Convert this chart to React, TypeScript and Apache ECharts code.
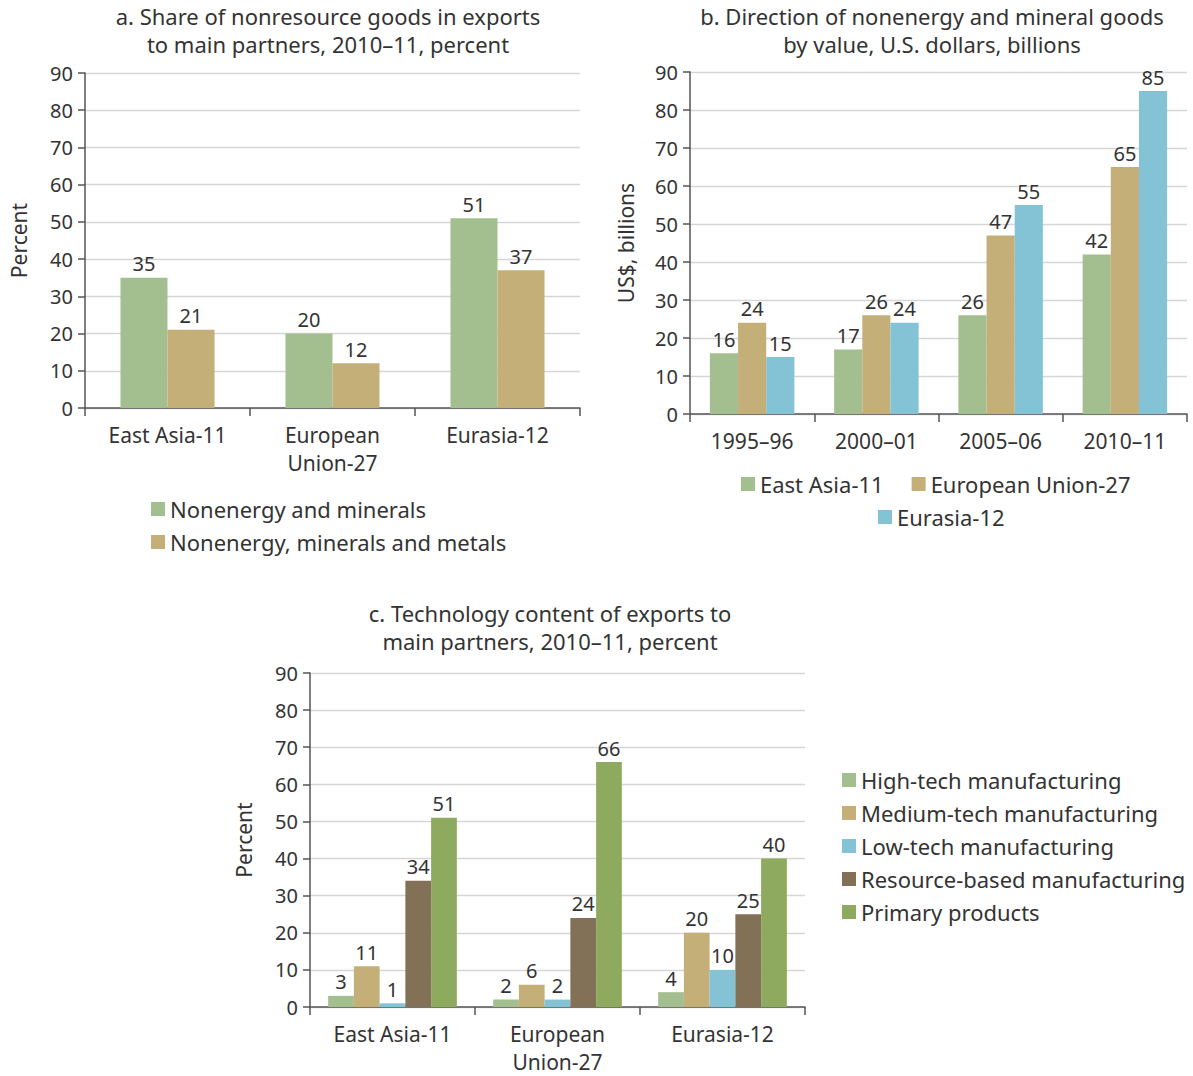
import React, { useEffect, useRef } from "react";
import * as echarts from "echarts";

const catsA = ["East Asia-11", "European\nUnion-27", "Eurasia-12"];
const seriesA1 = [35, 20, 51];
const seriesA2 = [21, 12, 37];
const namesA = ["Nonenergy and minerals", "Nonenergy, minerals and metals"];

const catsB = ["1995–96", "2000–01", "2005–06", "2010–11"];
const eastAsiaB = [16, 17, 26, 42];
const euB = [24, 26, 47, 65];
const eurasiaB = [15, 24, 55, 85];
const namesB = ["East Asia-11", "European Union-27", "Eurasia-12"];

const catsC = ["East Asia-11", "European\nUnion-27", "Eurasia-12"];
const highTech = [3, 2, 4];
const mediumTech = [11, 6, 20];
const lowTech = [1, 2, 10];
const resourceBased = [34, 24, 25];
const primary = [51, 66, 40];
const namesC = [
  "High-tech manufacturing",
  "Medium-tech manufacturing",
  "Low-tech manufacturing",
  "Resource-based manufacturing",
  "Primary products",
];

const yTicks = [0, 90, 10];

const GREEN = "#a4bf8f";
const TAN = "#c4af79";
const BLUE = "#83c3d5";
const BROWN = "#837157";
const OLIVE = "#8eaa5f";

const FONT = "Noto Sans";
const TXT = "#333";

export default function App() {
  const ref = useRef<HTMLDivElement>(null);
  useEffect(() => {
    document.body.style.margin = "0";
    const chart = echarts.init(ref.current!, null, { renderer: "svg" });
    const yAxis = (gridIndex: number, name: string, gap: number) => ({
      type: "value",
      gridIndex,
      min: yTicks[0],
      max: yTicks[1],
      interval: yTicks[2],
      name,
      nameLocation: "middle",
      nameGap: gap,
      nameTextStyle: { fontFamily: FONT, fontSize: 21, color: TXT },
      axisLine: { show: true, lineStyle: { color: "#555", width: 1.5 } },
      axisTick: { show: true, length: 7, lineStyle: { color: "#555", width: 1.5 } },
      axisLabel: { fontFamily: FONT, fontSize: 20, color: TXT, margin: 12 },
      splitLine: { lineStyle: { color: "#d6d6d6", width: 1.3 } },
    });
    const xAxis = (gridIndex: number, data: string[]) => ({
      type: "category",
      gridIndex,
      data,
      axisLine: { lineStyle: { color: "#555", width: 1.5 } },
      axisTick: { show: true, length: 8, lineStyle: { color: "#555", width: 1.5 } },
      axisLabel: {
        fontFamily: FONT,
        fontSize: 21,
        color: TXT,
        margin: 13,
        lineHeight: 28,
      },
    });
    const label = {
      show: true,
      position: "top",
      distance: 4,
      fontFamily: FONT,
      fontSize: 20,
      color: TXT,
    };
    const bar = (
      name: string,
      data: number[],
      color: string,
      idx: number,
      gap: string
    ) => ({
      type: "bar",
      name,
      data,
      xAxisIndex: idx,
      yAxisIndex: idx,
      barGap: "0%",
      barCategoryGap: gap,
      itemStyle: { color },
      label,
    });
    const titleText = (x: number, y: number, text: string) => ({
      type: "text",
      x,
      y,
      style: {
        text,
        fontFamily: FONT,
        fontSize: 22,
        lineHeight: 28,
        fill: TXT,
        align: "center",
        verticalAlign: "top",
      },
    });
    const legendText = { fontFamily: FONT, fontSize: 22, color: TXT };
    chart.setOption({
      animation: false,
      grid: [
        { left: 85, top: 73, width: 495, height: 335 },
        { left: 690, top: 72, width: 497, height: 342 },
        { left: 310, top: 673, width: 495, height: 338 },
      ],
      xAxis: [xAxis(0, catsA), xAxis(1, catsB), xAxis(2, catsC)],
      yAxis: [yAxis(0, "Percent", 56), yAxis(1, "US$, billions", 54), yAxis(2, "Percent", 56)],
      legend: [
        {
          data: namesA,
          orient: "vertical",
          left: 146,
          top: 493,
          itemWidth: 14,
          itemHeight: 14,
          itemGap: 11,
          textStyle: legendText,
          icon: "rect",
        },
        {
          data: namesB.slice(0, 2),
          orient: "horizontal",
          left: 736,
          top: 468,
          itemWidth: 14,
          itemHeight: 14,
          itemGap: 28,
          textStyle: legendText,
          icon: "rect",
        },
        {
          data: namesB.slice(2),
          orient: "horizontal",
          left: 873,
          top: 501,
          itemWidth: 14,
          itemHeight: 14,
          textStyle: legendText,
          icon: "rect",
        },
        {
          data: namesC,
          orient: "vertical",
          left: 837,
          top: 764,
          itemWidth: 14,
          itemHeight: 14,
          itemGap: 11,
          textStyle: legendText,
          icon: "rect",
        },
      ],
      graphic: [
        titleText(328, 2, "a. Share of nonresource goods in exports\nto main partners, 2010–11, percent"),
        titleText(932, 2, "b. Direction of nonenergy and mineral goods\nby value, U.S. dollars, billions"),
        titleText(550, 599, "c. Technology content of exports to\nmain partners, 2010–11, percent"),
      ],
      series: [
        bar(namesA[0], seriesA1, GREEN, 0, "43%"),
        bar(namesA[1], seriesA2, TAN, 0, "43%"),
        bar(namesB[0], eastAsiaB, GREEN, 1, "32%"),
        bar(namesB[1], euB, TAN, 1, "32%"),
        bar(namesB[2], eurasiaB, BLUE, 1, "32%"),
        bar(namesC[0], highTech, GREEN, 2, "22%"),
        bar(namesC[1], mediumTech, TAN, 2, "22%"),
        bar(namesC[2], lowTech, BLUE, 2, "22%"),
        bar(namesC[3], resourceBased, BROWN, 2, "22%"),
        bar(namesC[4], primary, OLIVE, 2, "22%"),
      ],
    });
    return () => chart.dispose();
  }, []);
  return <div ref={ref} style={{ width: 1193, height: 1076 }} />;
}
